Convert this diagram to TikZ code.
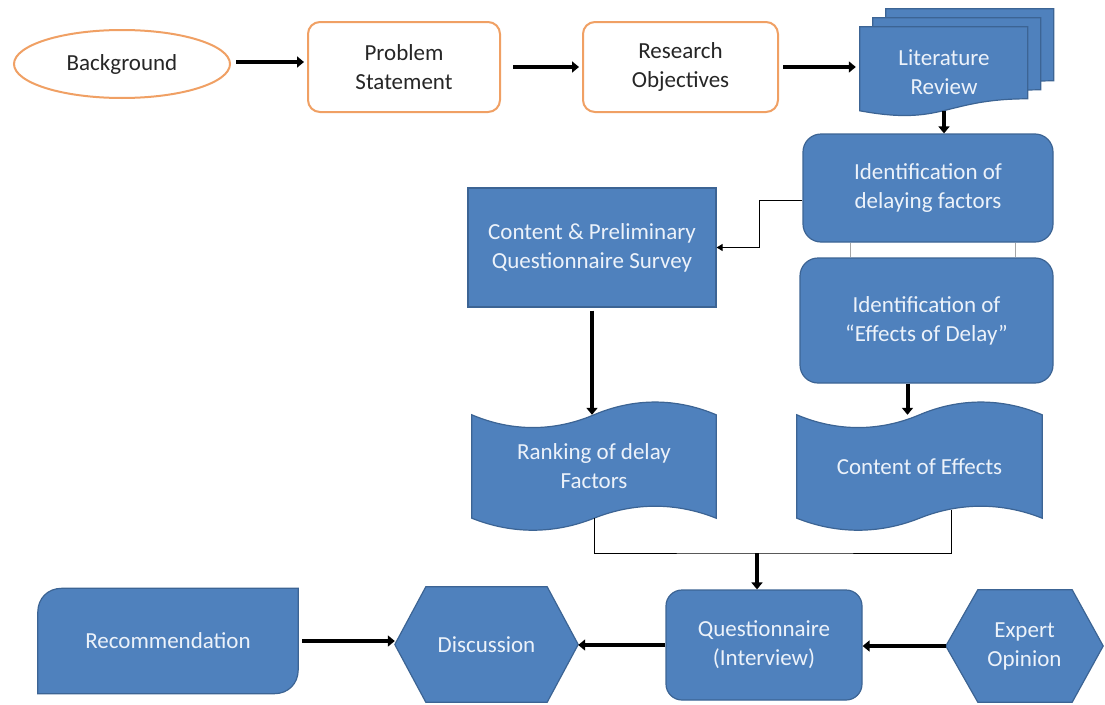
\documentclass[tikz,border=0pt]{standalone}
\usepackage{fontspec}
\setmainfont{Carlito}
\usetikzlibrary{arrows.meta,shapes.geometric,backgrounds,calc}
\definecolor{bfill}{RGB}{79,129,189}
\definecolor{bdraw}{RGB}{60,100,148}
\definecolor{oline}{RGB}{240,160,100}
\definecolor{btext}{RGB}{236,242,250}
\newcommand{\tapeshape}[1]{%
  \path[bshape] (#1.north west) .. controls +(40,17) and +(-40,17) .. (#1.north)
    .. controls +(40,-17) and +(-40,-17) .. (#1.north east) -- (#1.south east)
    .. controls +(-40,-16) and +(40,-16) .. (#1.south)
    .. controls +(-40,16) and +(40,16) .. (#1.south west) -- cycle;}
\begin{document}
\begin{tikzpicture}[x=1pt,y=-1pt,
  txt/.style={font=\fontsize{23}{29}\selectfont, align=center, inner sep=0pt},
  wtxt/.style={txt, text=btext},
  ktxt/.style={txt, text=black!85},
  bshape/.style={fill=bfill, draw=bdraw, line width=1.2pt},
  ell/.style={ktxt, ellipse, draw=oline, line width=2pt, fill=white, minimum width=216pt, minimum height=68pt},
  obox/.style={ktxt, draw=oline, line width=2pt, fill=white, rounded corners=12pt, minimum width=192pt, minimum height=90pt},
  rbox/.style={wtxt, bshape, rounded corners=18pt},
  sbox/.style={wtxt, bshape},
  ghost/.style={wtxt},
  tarrow/.style={line width=4pt, -{Triangle[length=7pt,width=11pt]}},
  thinline/.style={line width=1pt},
  grayline/.style={line width=1pt, draw=gray!70},
]
\useasboundingbox (0,0) rectangle (1105,704);

% top row
\node[ell] (bg) at (122,64) {Background};
\node[obox] (ps) at (404,67) {Problem\\Statement};
\node[obox, minimum width=195pt] (ro) at (680.5,67) {Research\\Objectives};
\node[ghost, minimum width=168pt, minimum height=84pt] (lr) at (944,72) {Literature\\Review};

% right column
\node[rbox, minimum width=250pt, minimum height=108pt] (idf) at (928,188) {Identification of\\delaying factors};
\node[rbox, minimum width=253pt, minimum height=125pt] (ied) at (926.5,320.5) {Identification of\\“Effects of Delay”};
\node[ghost, minimum width=245pt, minimum height=103pt] (coe) at (919.5,466.5) {Content of Effects};

% middle column
\node[sbox, minimum width=248pt, minimum height=119pt] (cpqs) at (592,247.5) {Content \& Preliminary\\Questionnaire Survey};
\node[ghost, minimum width=244pt, minimum height=103pt] (rank) at (594,466.5) {Ranking of delay\\Factors};

% bottom row
\node[rbox, minimum width=196pt, minimum height=110pt, rounded corners=16pt] (quest) at (764,645) {Questionnaire\\(Interview)};
\node[ghost, minimum width=157pt, minimum height=112pt] (exp) at (1024.5,646) {Expert\\Opinion};
\node[ghost, minimum width=183pt, minimum height=115pt] (dis) at (486.5,644.5) {Discussion};
\node[ghost, minimum width=260pt, minimum height=105pt] (rec) at (168,641) {Recommendation};

\begin{pgfonlayer}{background}
  \fill[white] (0,0) rectangle (1105,704);
  % literature review: stacked documents
  \foreach \d/\e in {26/18,13/9,0/0} {
    \path[bshape] ([shift={(\d,-\e)}]lr.north west) ++(0,-3) -- ++(168,0) -- ++(0,72)
      .. controls +(-84,0) and +(84,15.5) .. ++(-168,12) -- cycle;
  }
  \tapeshape{rank}
  \tapeshape{coe}
  % hexagons
  \path[bshape] (exp.west) -- ([xshift=32pt]exp.north west) -- ([xshift=-31pt]exp.north east)
    -- (exp.east) -- ([xshift=-31pt]exp.south east) -- ([xshift=32pt]exp.south west) -- cycle;
  \path[bshape] (dis.west) -- ([xshift=31pt]dis.north west) -- ([xshift=-31pt]dis.north east)
    -- (dis.east) -- ([xshift=-31pt]dis.south east) -- ([xshift=31pt]dis.south west) -- cycle;
  % recommendation: round diagonal corners
  \path[bshape] ([yshift=-24pt]rec.north west) .. controls ([yshift=-10pt]rec.north west) and ([xshift=10pt]rec.north west) .. ([xshift=24pt]rec.north west)
    -- (rec.north east) -- ([yshift=24pt]rec.south east)
    .. controls ([yshift=10pt]rec.south east) and ([xshift=-10pt]rec.south east) .. ([xshift=-24pt]rec.south east)
    -- (rec.south west) -- cycle;
\end{pgfonlayer}

% connectors
\draw[tarrow] ([xshift=5pt,yshift=2pt]bg.east) -- ([xshift=-3pt,yshift=2pt]bg.east -| ps.west);
\draw[tarrow] ([xshift=12pt]ps.east) -- ([xshift=-3pt]ro.west);
\draw[tarrow] ([xshift=4pt]ro.east) -- ([xshift=-4pt]ro.east -| lr.west);
\draw[tarrow] ([yshift=3pt]lr.south) -- (lr.south |- idf.north);
\draw[grayline] ([xshift=-78pt]idf.south) -- ([xshift=-78pt]idf.south |- ied.north);
\draw[grayline] ([xshift=87pt]idf.south) -- ([xshift=87pt]idf.south |- ied.north);
\draw[thinline, -{Triangle[length=6pt,width=7pt]}] ([yshift=-12pt]idf.west) -| ($(cpqs.east)!.5!(idf.west)$) |- (cpqs.east);
\draw[tarrow] ([yshift=-3pt]cpqs.south) -- (cpqs.south |- rank.north);
\draw[tarrow] ([xshift=-19pt]ied.south) -- ([xshift=-19pt]ied.south |- coe.north);
\coordinate (jn) at (757,553);
\draw[thinline] (rank.south) |- (jn) -| ([xshift=32pt,yshift=8pt]coe.south);
\draw[tarrow] (jn) -- (jn |- quest.north);
\draw[tarrow] (exp.west) -- (exp.west -| quest.east);
\draw[tarrow] (quest.west) -- (quest.west -| dis.east);
\draw[tarrow] ([xshift=4pt]rec.east) -- (rec.east -| dis.west);
\end{tikzpicture}
\end{document}
